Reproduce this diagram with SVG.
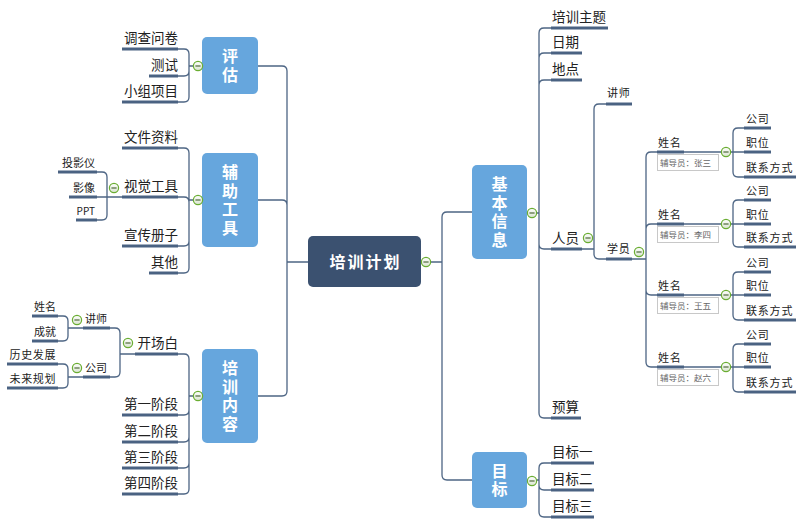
<svg xmlns="http://www.w3.org/2000/svg" width="800" height="527" viewBox="0 0 800 527">
<defs>
<linearGradient id="cg" x1="0" y1="0" x2="0" y2="1"><stop offset="0" stop-color="#ffffff"/><stop offset="1" stop-color="#d9e4cf"/></linearGradient>
<g id="col"><circle r="4.6" fill="url(#cg)" stroke="#6aad32" stroke-width="1.2"/><path d="M-2.6,0 H2.6" stroke="#4f6a3a" stroke-width="1.2"/></g>
<style>
.c{fill:none;stroke:#4d6584;stroke-width:1.3}
.u{stroke:#4a6282;stroke-width:3}
.th{stroke:#4d6584;stroke-width:1.3}
.box{fill:#66a6dd}
text{font-family:"Noto Sans CJK SC","Noto Sans",sans-serif;fill:#222}
.m{font-size:13.5px}
.s{font-size:11px;letter-spacing:0.8px}
.sl{font-size:11px}
.bt{font-size:16px;font-weight:bold;fill:#fff;text-anchor:middle}
.vt{font-size:16px;font-weight:bold;fill:#fff;text-anchor:middle;writing-mode:vertical-rl;letter-spacing:2.5px}
.e{text-anchor:end}
.note{font-size:8.5px;fill:#666}
.nb{fill:#fff;stroke:#c8c8c8;stroke-width:1}
</style>
</defs>
<rect width="800" height="527" fill="#fff"/>

<g id="connectors">
<path class="c" d="M431,262 H442 M442,262 V217 Q442,212 447,212 H472 M442,262 V475 Q442,480 447,480 H472"/>
<path class="c" d="M308,262 H287 M287,262 V71 Q287,66 282,66 H258 M287,262 V205 Q287,200 282,200 H258 M287,262 V391 Q287,396 282,396 H258"/>
<path class="c" d="M193,66 H189 M189,66 V54 Q189,49 184,49 H178 M189,66 V71 Q189,76 184,76 H178 M189,66 V97 Q189,102 184,102 H178"/>
<path class="c" d="M193,200 H189 M189,200 V153 Q189,148 184,148 H178 M189,202 Q189,197 184,197 H178 M189,200 V241 Q189,246 184,246 H178 M189,200 V268 Q189,273 184,273 H178"/>
<path class="c" d="M122,197 H107 M107,197 V177 Q107,172 102,172 H97 M107,197 H97 M107,197 V215 Q107,220 102,220 H97"/>
<path class="c" d="M193,396 H189 M189,396 V359 Q189,354 184,354 H178 M189,396 V410 Q189,415 184,415 H178 M189,396 V437 Q189,442 184,442 H178 M189,396 V463 Q189,468 184,468 H178 M189,396 V489 Q189,494 184,494 H178"/>
<path class="c" d="M135,354 H120 M120,354 V333 Q120,328 115,328 H110 M120,354 V372 Q120,377 115,377 H110"/>
<path class="c" d="M83,328 H68 M68,328 V321 Q68,316 63,316 H58 M68,328 V336 Q68,341 63,341 H58"/>
<path class="c" d="M83,377 H68 M68,377 V369 Q68,364 63,364 H58 M68,377 V383 Q68,388 63,388 H58"/>
<path class="c" d="M537,213 H539 M539,213 V33 Q539,28 544,28 H551 M539,213 V58 Q539,53 544,53 H551 M539,213 V85 Q539,80 544,80 H551 M539,213 V244 Q539,249 544,249 H551 M539,213 V413 Q539,418 544,418 H551"/>
<path class="c" d="M582,249 H594 M594,249 V109 Q594,104 599,104 H606 M594,249 V254 Q594,259 599,259 H606"/>
<path class="c" d="M632,259 H646 M646,259 V157 Q646,152 651,152 H657 M646,259 V229 Q646,224 651,224 H657 M646,259 V290 Q646,295 651,295 H657 M646,259 V362 Q646,367 651,367 H657"/>
<path class="c" d="M731,152 H744 M733,152 V133 Q733,128 738,128 H744 M733,152 V172 Q733,177 738,177 H744"/>
<path class="c" d="M731,224 H744 M733,224 V205 Q733,200 738,200 H744 M733,224 V242 Q733,247 738,247 H744"/>
<path class="c" d="M731,295 H744 M733,295 V277 Q733,272 738,272 H744 M733,295 V315 Q733,320 738,320 H744"/>
<path class="c" d="M731,367 H744 M733,367 V349 Q733,344 738,344 H744 M733,367 V387 Q733,392 738,392 H744"/>
<path class="c" d="M537,480 H539 M539,480 V468 Q539,463 544,463 H551 M539,480 V485 Q539,490 544,490 H551 M539,480 V512 Q539,517 544,517 H551"/>
</g>

<g id="root">
<rect x="308" y="236" width="113" height="51" rx="5" fill="#3b5170"/>
<text x="365.5" y="268" class="bt" style="letter-spacing:2px">培训计划</text>
<use href="#col" x="426" y="262"/>
</g>

<g id="pinggu">
<rect class="box" x="202" y="37" width="56" height="57" rx="5"/>
<text class="vt" x="230" y="66.5">评估</text>
<use href="#col" x="198" y="66"/>
</g>
<g id="fuzhu">
<rect class="box" x="202" y="153" width="56" height="94" rx="5"/>
<text class="vt" x="230" y="201">辅助工具</text>
<use href="#col" x="198" y="200"/>
</g>
<g id="peixun">
<rect class="box" x="202" y="349" width="56" height="94" rx="5"/>
<text class="vt" x="230" y="397">培训内容</text>
<use href="#col" x="198" y="396"/>
</g>

<g id="diaocha"><line class="u" x1="122" y1="49" x2="178" y2="49"/><text class="m e" x="178" y="43">调查问卷</text></g>
<g id="ceshi"><line class="u" x1="149" y1="76" x2="178" y2="76"/><text class="m e" x="178" y="70">测试</text></g>
<g id="xiaozu"><line class="u" x1="122" y1="102" x2="178" y2="102"/><text class="m e" x="178" y="96">小组项目</text></g>

<g id="wenjian"><line class="u" x1="122" y1="148" x2="178" y2="148"/><text class="m e" x="178" y="142">文件资料</text></g>
<g id="shijue"><line class="u" x1="122" y1="197" x2="178" y2="197"/><text class="m e" x="178" y="191">视觉工具</text><use href="#col" x="114" y="188"/></g>
<g id="touying"><line class="u" x1="58" y1="172" x2="97" y2="172"/><text class="sl e" x="95" y="167">投影仪</text></g>
<g id="yingxiang"><line class="u" x1="69" y1="197" x2="97" y2="197"/><text class="sl e" x="95" y="192">影像</text></g>
<g id="ppt"><line class="u" x1="76" y1="220" x2="97" y2="220"/><text class="sl e" x="95" y="215" style="font-size:10px">PPT</text></g>
<g id="xuanchuan"><line class="u" x1="122" y1="246" x2="178" y2="246"/><text class="m e" x="178" y="240">宣传册子</text></g>
<g id="qita"><line class="u" x1="149" y1="273" x2="178" y2="273"/><text class="m e" x="178" y="267">其他</text></g>

<g id="kaichang"><line class="u" x1="135" y1="354" x2="178" y2="354"/><text class="m e" x="178" y="348">开场白</text><use href="#col" x="128" y="343"/></g>
<g id="l-jiangshi"><line class="u" x1="83" y1="328" x2="110" y2="328"/><text class="sl e" x="107" y="323">讲师</text><use href="#col" x="77" y="320"/></g>
<g id="l-gongsi"><line class="u" x1="83" y1="377" x2="110" y2="377"/><text class="sl e" x="107" y="372">公司</text><use href="#col" x="77" y="368"/></g>
<g id="l-xingming"><line class="u" x1="32" y1="316" x2="58" y2="316"/><text class="sl e" x="56" y="311">姓名</text></g>
<g id="l-chengjiu"><line class="u" x1="32" y1="341" x2="58" y2="341"/><text class="sl e" x="56" y="336">成就</text></g>
<g id="l-lishi"><line class="u" x1="7" y1="364" x2="58" y2="364"/><text class="sl e" x="56" y="359" style="letter-spacing:0.6px">历史发展</text></g>
<g id="l-weilai"><line class="u" x1="7" y1="388" x2="58" y2="388"/><text class="sl e" x="56" y="383" style="letter-spacing:0.6px">未来规划</text></g>
<g id="jd1"><line class="u" x1="122" y1="415" x2="178" y2="415"/><text class="m e" x="178" y="409">第一阶段</text></g>
<g id="jd2"><line class="u" x1="122" y1="442" x2="178" y2="442"/><text class="m e" x="178" y="436">第二阶段</text></g>
<g id="jd3"><line class="u" x1="122" y1="468" x2="178" y2="468"/><text class="m e" x="178" y="462">第三阶段</text></g>
<g id="jd4"><line class="u" x1="122" y1="494" x2="178" y2="494"/><text class="m e" x="178" y="488">第四阶段</text></g>

<g id="jiben">
<rect class="box" x="472" y="165" width="55" height="94" rx="5"/>
<text class="vt" x="499.5" y="213">基本信息</text>
<use href="#col" x="532" y="213"/>
</g>
<g id="mubiao">
<rect class="box" x="472" y="452" width="55" height="56" rx="5"/>
<text class="vt" x="499.5" y="481">目标</text>
<use href="#col" x="532" y="481"/>
</g>

<g id="zhuti"><line class="u" x1="551" y1="28" x2="608" y2="28"/><text class="m" x="552" y="22">培训主题</text></g>
<g id="riqi"><line class="u" x1="551" y1="53" x2="582" y2="53"/><text class="m" x="552" y="47">日期</text></g>
<g id="didian"><line class="u" x1="551" y1="80" x2="582" y2="80"/><text class="m" x="552" y="74">地点</text></g>
<g id="renyuan"><line class="u" x1="551" y1="249" x2="582" y2="249"/><text class="m" x="552" y="243">人员</text><use href="#col" x="588" y="238"/></g>
<g id="yusuan"><line class="u" x1="551" y1="418" x2="581" y2="418"/><text class="m" x="552" y="412">预算</text></g>
<g id="r-jiangshi"><line class="u" x1="606" y1="104" x2="632" y2="104"/><text class="s" x="607" y="97">讲师</text></g>
<g id="xueyuan"><line class="u" x1="606" y1="259" x2="632" y2="259"/><text class="s" x="607" y="253">学员</text><use href="#col" x="639" y="252"/></g>

<g id="stu1">
<line class="u" x1="657" y1="152" x2="684" y2="152"/><line class="th" x1="684" y1="152" x2="721" y2="152"/>
<text class="s" x="658" y="147">姓名</text>
<rect class="nb" x="657.5" y="154.5" width="61" height="16"/><text class="note" x="660" y="166">辅导员：张三</text>
<use href="#col" x="726" y="152"/>
</g>
<g id="stu2">
<line class="u" x1="657" y1="224" x2="684" y2="224"/><line class="th" x1="684" y1="224" x2="721" y2="224"/>
<text class="s" x="658" y="219">姓名</text>
<rect class="nb" x="657.5" y="226.5" width="61" height="16"/><text class="note" x="660" y="238">辅导员：李四</text>
<use href="#col" x="726" y="224"/>
</g>
<g id="stu3">
<line class="u" x1="657" y1="295" x2="684" y2="295"/><line class="th" x1="684" y1="295" x2="721" y2="295"/>
<text class="s" x="658" y="290">姓名</text>
<rect class="nb" x="657.5" y="297.5" width="61" height="16"/><text class="note" x="660" y="309">辅导员：王五</text>
<use href="#col" x="726" y="295"/>
</g>
<g id="stu4">
<line class="u" x1="657" y1="367" x2="684" y2="367"/><line class="th" x1="684" y1="367" x2="721" y2="367"/>
<text class="s" x="658" y="362">姓名</text>
<rect class="nb" x="657.5" y="369.5" width="61" height="16"/><text class="note" x="660" y="381">辅导员：赵六</text>
<use href="#col" x="726" y="367"/>
</g>

<g id="g1-gs"><line class="u" x1="744" y1="128" x2="771" y2="128"/><text class="s" x="746" y="123">公司</text></g>
<g id="g1-zw"><line class="u" x1="744" y1="152" x2="771" y2="152"/><text class="s" x="746" y="147">职位</text></g>
<g id="g1-lx"><line class="u" x1="744" y1="177" x2="796" y2="177"/><text class="s" x="746" y="172">联系方式</text></g>
<g id="g2-gs"><line class="u" x1="744" y1="200" x2="771" y2="200"/><text class="s" x="746" y="195">公司</text></g>
<g id="g2-zw"><line class="u" x1="744" y1="224" x2="771" y2="224"/><text class="s" x="746" y="219">职位</text></g>
<g id="g2-lx"><line class="u" x1="744" y1="247" x2="796" y2="247"/><text class="s" x="746" y="242">联系方式</text></g>
<g id="g3-gs"><line class="u" x1="744" y1="272" x2="771" y2="272"/><text class="s" x="746" y="267">公司</text></g>
<g id="g3-zw"><line class="u" x1="744" y1="295" x2="771" y2="295"/><text class="s" x="746" y="290">职位</text></g>
<g id="g3-lx"><line class="u" x1="744" y1="320" x2="796" y2="320"/><text class="s" x="746" y="315">联系方式</text></g>
<g id="g4-gs"><line class="u" x1="744" y1="344" x2="771" y2="344"/><text class="s" x="746" y="339">公司</text></g>
<g id="g4-zw"><line class="u" x1="744" y1="367" x2="771" y2="367"/><text class="s" x="746" y="362">职位</text></g>
<g id="g4-lx"><line class="u" x1="744" y1="392" x2="796" y2="392"/><text class="s" x="746" y="387">联系方式</text></g>

<g id="mb1"><line class="u" x1="551" y1="463" x2="594" y2="463"/><text class="m" x="552" y="457">目标一</text></g>
<g id="mb2"><line class="u" x1="551" y1="490" x2="594" y2="490"/><text class="m" x="552" y="484">目标二</text></g>
<g id="mb3"><line class="u" x1="551" y1="517" x2="594" y2="517"/><text class="m" x="552" y="511">目标三</text></g>
</svg>
